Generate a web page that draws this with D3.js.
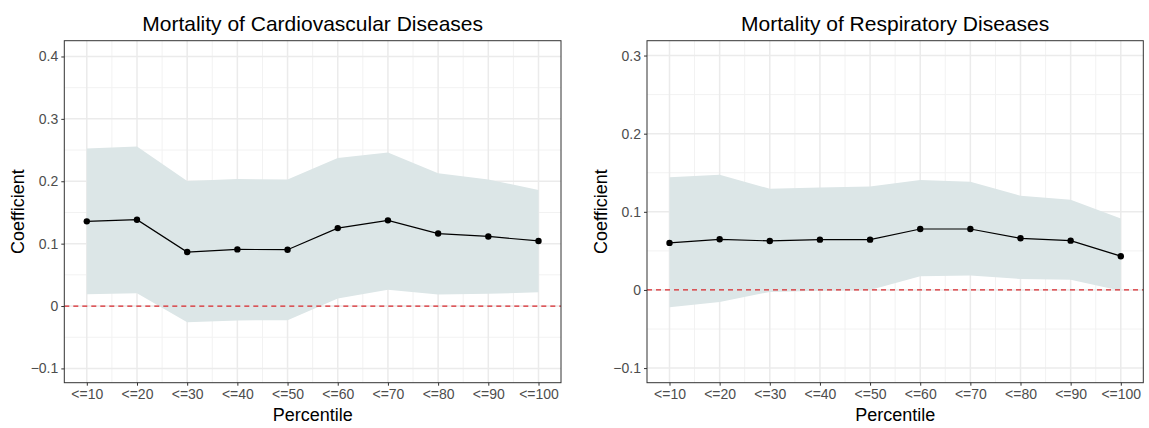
<!DOCTYPE html>
<html><head><meta charset="utf-8">
<script src="https://cdn.jsdelivr.net/npm/d3@7"></script>
<style>body{margin:0;background:#fff;}svg{display:block;font-family:"Liberation Sans",Arial,sans-serif;}</style>
</head><body><svg id="c" width="1149" height="428"></svg>
<script>
const categories = ["<=10","<=20","<=30","<=40","<=50","<=60","<=70","<=80","<=90","<=100"];
const cvTitle = "Mortality of Cardiovascular Diseases";
const cvCoef  = [0.1357,0.1384,0.0865,0.0908,0.0903,0.1249,0.1373,0.1162,0.1115,0.1043];
const cvLower = [0.0189,0.0205,-0.026,-0.023,-0.0227,0.0119,0.026,0.0184,0.0195,0.0222];
const cvUpper = [0.2524,0.2556,0.2005,0.2037,0.2027,0.2374,0.246,0.2128,0.203,0.186];
const cvTicks = [-0.1,0,0.1,0.2,0.3,0.4];
const rsTitle = "Mortality of Respiratory Diseases";
const rsCoef  = [0.0602,0.0648,0.0627,0.0644,0.0644,0.078,0.078,0.0661,0.0631,0.0432];
const rsLower = [-0.022,-0.0153,-0.0025,-0.001,0.0,0.0174,0.0186,0.014,0.0131,-0.001];
const rsUpper = [0.1444,0.1474,0.1295,0.131,0.1325,0.1406,0.1385,0.1205,0.1154,0.0915];
const rsTicks = [-0.1,0,0.1,0.2,0.3];
const xLabel = "Percentile", yLabel = "Coefficient";

const svg = d3.select("#c");

function panel(cfg){
  const {left,right,top,bottom,domain,title,coef,lower,upper,ticks,ylabX} = cfg;
  const g = svg.append("g");
  const x = d3.scalePoint().domain(categories).range([left+22.5, right-22.5]);
  const y = d3.scaleLinear().domain(domain).range([bottom, top]);
  const step = x.step();
  // minor grid
  const minorY = [];
  for(let i=0;i<ticks.length-1;i++) minorY.push((ticks[i]+ticks[i+1])/2);
  minorY.push(ticks[0]-0.05); minorY.push(ticks[ticks.length-1]+0.05);
  g.selectAll(".my").data(minorY.filter(v=>y(v)>top&&y(v)<bottom)).enter().append("line")
    .attr("x1",left).attr("x2",right).attr("y1",d=>y(d)).attr("y2",d=>y(d))
    .attr("stroke","#f2f2f2").attr("stroke-width",1);
  const minorX = categories.slice(0,-1).map(c=>x(c)+step/2);
  g.selectAll(".mx").data(minorX).enter().append("line")
    .attr("x1",d=>d).attr("x2",d=>d).attr("y1",top).attr("y2",bottom)
    .attr("stroke","#f2f2f2").attr("stroke-width",1);
  // major grid
  g.selectAll(".gy").data(ticks).enter().append("line")
    .attr("x1",left).attr("x2",right).attr("y1",d=>y(d)).attr("y2",d=>y(d))
    .attr("stroke","#ebebeb").attr("stroke-width",1.5);
  g.selectAll(".gx").data(categories).enter().append("line")
    .attr("x1",d=>x(d)).attr("x2",d=>x(d)).attr("y1",top).attr("y2",bottom)
    .attr("stroke","#ebebeb").attr("stroke-width",1.5);
  // ribbon
  const area = d3.area().x((d,i)=>x(categories[i])).y0((d,i)=>y(lower[i])).y1((d,i)=>y(upper[i]));
  g.append("path").datum(coef).attr("d",area).attr("fill","#dce6e7");
  // zero line
  g.append("line").attr("x1",left).attr("x2",right).attr("y1",y(0)).attr("y2",y(0))
    .attr("stroke","#d7262b").attr("stroke-width",1.3).attr("stroke-dasharray","5,4");
  // line + points
  const line = d3.line().x((d,i)=>x(categories[i])).y(d=>y(d));
  g.append("path").datum(coef).attr("d",line).attr("fill","none").attr("stroke","#000").attr("stroke-width",1.2);
  g.selectAll(".pt").data(coef).enter().append("circle")
    .attr("cx",(d,i)=>x(categories[i])).attr("cy",d=>y(d)).attr("r",3.2).attr("fill","#000");
  // border
  g.append("rect").attr("x",left).attr("y",top).attr("width",right-left).attr("height",bottom-top)
    .attr("fill","none").attr("stroke","#333").attr("stroke-width",1);
  // axes
  const ya = d3.axisLeft(y).tickValues(ticks).tickSize(3).tickPadding(3)
    .tickFormat(d=> d===0 ? "0" : d3.format(".1f")(d));
  const yg = g.append("g").attr("transform",`translate(${left},0)`).call(ya);
  const xa = d3.axisBottom(x).tickSize(3).tickPadding(3);
  const xg = g.append("g").attr("transform",`translate(0,${bottom})`).call(xa);
  [yg,xg].forEach(a=>{
    a.select(".domain").remove();
    a.selectAll(".tick line").attr("stroke","#333");
    a.selectAll(".tick text").attr("fill","#4d4d4d").style("font-size","14px")
      .style("font-family","'Liberation Sans',Arial,sans-serif");
  });
  // titles
  g.append("text").attr("x",(left+right)/2).attr("y",31).attr("text-anchor","middle")
    .style("font-size","21px").attr("fill","#000").text(title);
  g.append("text").attr("x",(left+right)/2).attr("y",421).attr("text-anchor","middle")
    .style("font-size","18px").attr("fill","#000").text(xLabel);
  g.append("text").attr("transform",`translate(${ylabX},${(top+bottom)/2}) rotate(-90)`)
    .attr("text-anchor","middle").style("font-size","18px").attr("fill","#000").text(yLabel);
}

panel({left:64.3,right:561,top:40.7,bottom:382.7,domain:[-0.1229,0.4253],title:cvTitle,
  coef:cvCoef,lower:cvLower,upper:cvUpper,ticks:cvTicks,ylabX:24});
panel({left:647,right:1143.3,top:40.7,bottom:382.7,domain:[-0.1187,0.319],title:rsTitle,
  coef:rsCoef,lower:rsLower,upper:rsUpper,ticks:rsTicks,ylabX:607});
</script></body></html>
